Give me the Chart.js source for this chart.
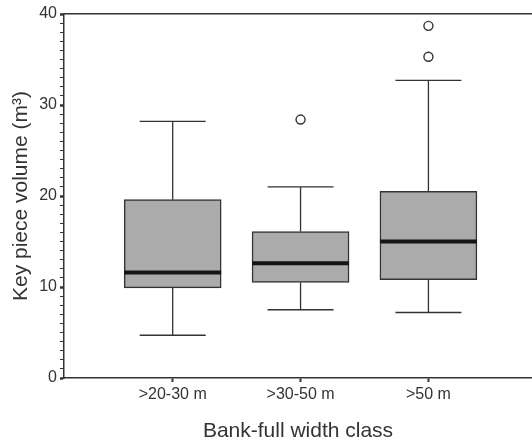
<!DOCTYPE html>
<html>
<head>
<meta charset="utf-8">
<script src="https://cdn.jsdelivr.net/npm/chart.js@4.4.1/dist/chart.umd.min.js"></script>
<style>
  html, body { margin: 0; padding: 0; background: #fff; }
  #wrap { width: 532px; height: 445px; }
</style>
</head>
<body>
<div id="wrap"><canvas id="myChart"></canvas></div>
<script>
// values
var categories = [">20-30 m", ">30-50 m", ">50 m"];
var whiskerLow = [4.7, 7.5, 7.2];
var q1 = [9.9, 10.5, 10.8];
var median = [11.6, 12.6, 15.0];
var q3 = [19.6, 16.1, 20.5];
var whiskerHigh = [28.2, 21.0, 32.7];
var outlierGroup = [2, 3, 3];
var outlierValue = [28.4, 35.3, 38.7];
var yTicks = [0, 10, 20, 30, 40];

var boxHalf = 0.379;  // half box width, x units
var capHalf = 0.258;  // half whisker cap width
var ink = "#333333";

var stems = [], caps = [], medians = [];
categories.forEach(function (c, i) {
  var x = i + 1;
  stems.push({ x: x, y: q3[i] }, { x: x, y: whiskerHigh[i] }, { x: x, y: null });
  stems.push({ x: x, y: q1[i] }, { x: x, y: whiskerLow[i] }, { x: x, y: null });
  caps.push({ x: x - capHalf, y: whiskerHigh[i] }, { x: x + capHalf, y: whiskerHigh[i] }, { x: x, y: null });
  caps.push({ x: x - capHalf, y: whiskerLow[i] }, { x: x + capHalf, y: whiskerLow[i] }, { x: x, y: null });
  medians.push({ x: x - boxHalf, y: median[i] }, { x: x + boxHalf, y: median[i] }, { x: x, y: null });
});

var ctx = document.getElementById("myChart");
var myChart = new Chart(ctx, {
  type: "bar",
  data: {
    datasets: [
      {
        type: "line",
        data: medians,
        borderColor: "#151515",
        borderWidth: 4,
        pointRadius: 0,
        spanGaps: false,
        order: 0
      },
      {
        type: "scatter",
        data: outlierGroup.map(function (g, i) { return { x: g, y: outlierValue[i] }; }),
        pointRadius: 4.5,
        pointBackgroundColor: "#ffffff",
        pointBorderColor: ink,
        pointBorderWidth: 1.4,
        order: 0
      },
      {
        type: "bar",
        data: categories.map(function (c, i) { return { x: i + 1, y: [q1[i], q3[i]] }; }),
        backgroundColor: "#ababab",
        borderColor: ink,
        borderWidth: 1.5,
        borderSkipped: false,
        barThickness: 97,
        order: 1
      },
      {
        type: "line",
        data: stems.concat(caps),
        borderColor: ink,
        borderWidth: 1.3,
        pointRadius: 0,
        spanGaps: false,
        order: 2
      }
    ]
  },
  options: {
    responsive: true,
    maintainAspectRatio: false,
    animation: false,
    layout: { autoPadding: false, padding: { top: 14, right: 0, left: 0, bottom: 0 } },
    plugins: { legend: { display: false }, tooltip: { enabled: false } },
    scales: {
      x: {
        type: "linear",
        position: "bottom",
        offset: false,
        min: 0.15,
        max: 3.81,
        afterBuildTicks: function (scale) {
          scale.ticks = categories.map(function (c, i) { return { value: i + 1 }; });
        },
        afterFit: function (scale) { scale.height = 67; },
        ticks: {
          autoSkip: false,
          maxRotation: 0,
          padding: 3,
          color: ink,
          font: { family: "Liberation Sans, Arial, sans-serif", size: 16 },
          callback: function (v) { return categories[v - 1]; }
        },
        grid: { offset: false, drawOnChartArea: false, tickLength: 4, tickWidth: 2, tickColor: ink },
        border: { color: ink, width: 1.5 },
        title: {
          display: true,
          text: "Bank-full width class",
          color: ink,
          font: { family: "Liberation Sans, Arial, sans-serif", size: 21 },
          padding: { top: 0, bottom: 1 }
        }
      },
      xTop: {
        type: "linear",
        position: "top",
        offset: false,
        min: 0.15,
        max: 3.81,
        afterFit: function (scale) { scale.height = 0; },
        ticks: { display: false },
        grid: { offset: false, drawOnChartArea: false, drawTicks: false },
        border: { color: ink, width: 1.5 }
      },
      y: {
        min: 0,
        max: 40,
        afterBuildTicks: function (scale) {
          var t = [];
          for (var v = 0; v <= 40; v++) t.push({ value: v });
          scale.ticks = t;
        },
        afterFit: function (scale) { scale.width = 64; },
        ticks: {
          autoSkip: false,
          padding: 3,
          color: ink,
          font: { family: "Liberation Sans, Arial, sans-serif", size: 16 },
          callback: function (v) { return yTicks.indexOf(v) >= 0 ? String(v) : ""; }
        },
        grid: {
          drawOnChartArea: false,
          tickLength: 4,
          tickColor: ink,
          tickWidth: function (c) { return yTicks.indexOf(c.tick.value) >= 0 ? 2.5 : 1; }
        },
        border: { color: ink, width: 1.5 },
        title: {
          display: true,
          text: "Key piece volume (m³)",
          color: ink,
          font: { family: "Liberation Sans, Arial, sans-serif", size: 21 },
          padding: { top: 9, bottom: 0 }
        }
      }
    }
  }
});
</script>
</body>
</html>
